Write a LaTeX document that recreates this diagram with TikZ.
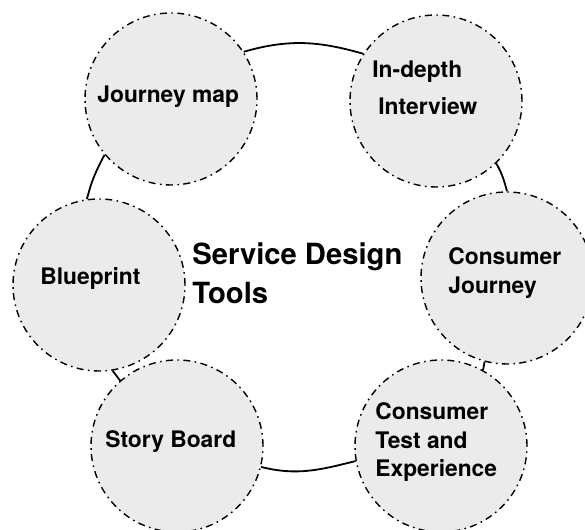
\documentclass[tikz,border=0pt]{standalone}
\usepackage{fontspec}
\setmainfont{TeX Gyre Heros}
\usepackage{tikz}

\definecolor{toolgray}{RGB}{235,235,235}

\begin{document}
\begin{tikzpicture}[x=0.5pt, y=0.5pt,
	every node/.style={font=\bfseries},
	tool/.style={circle, draw, fill=toolgray, line width=0.7pt,
		dash pattern=on 3.5pt off 2.2pt on 0.8pt off 2.2pt, minimum size=86pt, inner sep=0pt},
	toolname/.style={anchor=north west, inner sep=0pt, align=left,
		font=\bfseries\fontsize{11.4}{14.4}\selectfont},
	link/.style={line width=0.9pt}]
	\useasboundingbox (0,0) rectangle (585,530);
	% the six tools
	\node[tool] (jm) at (171,431) {};
	\node[tool] (ii) at (436,429) {};
	\node[tool] (cj) at (507,252) {};
	\node[tool] (ct) at (441,84) {};
	\node[tool] (sb) at (177,84) {};
	\node[tool] (bp) at (99,245) {};
	\node[toolname] (jm-text) at (97,445) {Journey map};
	\node[toolname, font=\bfseries\fontsize{11.4}{18.5}\selectfont] (ii-text) at (372,470) {In-depth\\\hspace{3pt}Interview};
	\node[toolname] (cj-text) at (448,283) {Consumer\\Journey};
	\node[toolname] (ct-text) at (375,128) {Consumer\\Test and\\Experience};
	\node[toolname] (sb-text) at (105,100) {Story Board};
	\node[toolname] (bp-text) at (40,263) {Blueprint};
	% title in the middle
	\node[toolname, font=\bfseries\fontsize{14.6}{19.7}\selectfont] (title) at (192,288) {Service Design\\Tools};
	% ring between them
	\draw[link] (jm.33) to[out=16, in=164] (ii.147);
	\draw[link] (ii.-46) to[out=-60, in=105] (cj.90);
	\draw[link] (cj.-105) -- (ct.61);
	\draw[link] (ct.190) to[out=194, in=-14] (sb.-14);
	\draw[link] (sb.131) -- (bp.-81);
	\draw[link] (bp.98) to[out=76, in=-118] (jm.220);
\end{tikzpicture}
\end{document}
